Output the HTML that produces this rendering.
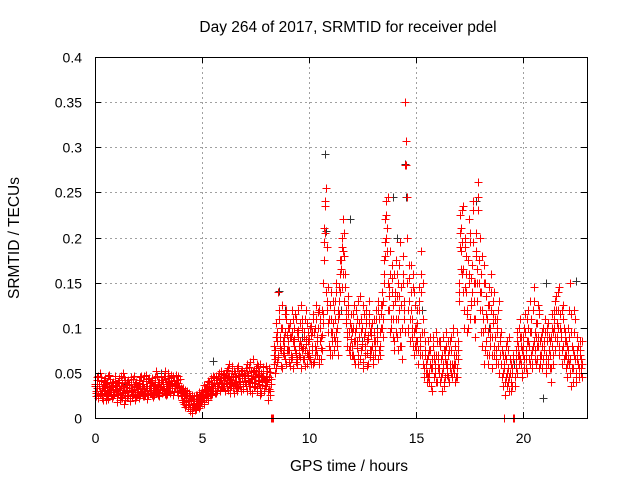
<!DOCTYPE html>
<html><head><meta charset="utf-8"><style>
html,body{margin:0;padding:0;background:#fff}
svg{display:block;font-family:"Liberation Sans",sans-serif}
</style></head><body>
<svg id="chart" width="640" height="480" viewBox="0 0 640 480">
<rect width="640" height="480" fill="#fff"/>
<g id="grid"></g>
<g id="marks"></g>
<g id="axes"></g>
<text x="348" y="32" font-size="15.5" text-anchor="middle">Day 264 of 2017, SRMTID for receiver pdel</text>
<text x="349" y="471" font-size="15.5" text-anchor="middle">GPS time / hours</text>
<text x="0" y="0" font-size="15.5" text-anchor="middle" transform="translate(19,238) rotate(-90)">SRMTID / TECUs</text>
</svg>
<script>
const xTicks = [0, 5, 10, 15, 20];
const yTicks = [0, 0.05, 0.1, 0.15, 0.2, 0.25, 0.3, 0.35, 0.4];
const yTickLabels = ["0", "0.05", "0.1", "0.15", "0.2", "0.25", "0.3", "0.35", "0.4"];
const startHour = 0;
const stepHours = 0.05;
// red series A (milli-TECU), sampled at startHour + i*stepHours
const redA = [
35,28,42,22,38,30,45,26,33,40,20,36,29,48,31,25,39,34,27,41,
30,18,44,26,35,22,50,31,28,37,24,42,33,19,38,29,46,27,34,25,
36,22,45,30,28,41,33,25,48,35,27,39,31,44,23,37,29,52,34,26,
40,31,47,28,36,43,25,38,50,33,29,45,37,26,41,35,48,30,39,34,
28,20,33,15,25,18,30,12,22,8,19,26,14,21,10,24,17,29,13,23,
20,27,15,32,22,35,28,40,25,38,30,45,33,28,42,36,50,31,44,38,
35,48,30,42,55,38,28,46,40,33,52,37,45,30,58,41,35,49,32,44,
40,55,30,48,36,62,44,28,51,39,46,33,58,42,25,50,37,45,30,41,
35,52,20,45,30,0,0,60,75,55,95,68,120,80,58,100,72,90,65,110,
85,62,105,70,95,55,88,115,72,60,98,80,68,125,75,90,58,82,105,70,
88,65,102,75,60,95,80,110,70,120,85,65,92,150,195,240,255,130,95,110,
75,140,95,120,85,150,100,70,130,160,175,200,220,180,145,110,90,125,80,100,
70,115,85,60,100,78,130,90,65,110,82,55,95,120,72,88,105,68,92,80,
60,95,75,110,85,130,70,100,140,90,160,195,240,210,150,120,185,100,140,90,
160,110,135,75,170,95,145,65,180,120,350,280,150,95,130,170,110,80,140,100,
75,120,60,145,90,185,70,110,55,85,40,70,50,90,35,65,80,45,60,95,
40,70,55,85,30,60,75,45,95,55,70,40,85,50,60,100,50,80,45,65,
150,225,185,230,165,120,200,140,95,175,220,110,155,240,130,90,205,150,262,175,
140,95,180,110,60,150,85,125,70,100,160,55,130,80,110,65,95,120,50,85,
60,35,0,70,45,85,55,30,65,40,50,0,0,45,75,95,60,110,80,50,
90,65,115,75,50,100,80,130,70,55,145,95,60,105,80,120,70,90,55,100,
75,110,50,95,65,85,40,100,70,120,90,135,105,140,80,115,95,60,125,85,
70,45,100,60,150,35,80,55,120,65,40,90,60,75,50,85
];
// red series B (milli-TECU), offset by half a step
const redB = [
30,45,25,36,50,28,33,20,42,31,38,24,46,29,35,22,40,27,32,37,
25,40,33,20,47,28,36,15,42,30,26,38,22,45,31,27,35,20,40,29,
32,42,26,38,24,46,30,35,21,43,33,28,40,25,37,31,45,29,36,24,
34,45,28,40,32,52,36,27,44,30,38,48,26,42,33,37,29,46,35,31,
25,32,18,27,12,22,16,28,10,20,6,15,24,11,19,25,14,22,18,27,
25,18,30,24,38,20,33,26,44,30,36,42,28,47,35,40,30,52,36,45,
42,30,50,36,45,60,33,40,52,28,45,38,55,34,48,40,30,53,38,47,
48,35,60,42,30,52,40,65,34,45,55,30,48,38,60,28,45,52,35,58,
42,30,55,25,38,0,0,70,50,90,62,140,78,100,55,85,70,115,60,92,
75,100,58,90,68,110,80,62,95,120,70,85,55,100,78,65,110,88,72,95,
68,92,80,115,62,100,75,90,118,65,100,78,120,105,210,235,190,145,80,125,
95,70,130,90,110,140,80,120,145,175,190,160,205,160,120,95,135,75,105,88,
95,70,125,85,110,60,90,135,75,100,62,115,80,105,58,92,130,75,100,65,
85,70,120,95,65,110,80,125,100,130,175,220,200,245,135,160,110,170,125,75,
130,175,90,150,120,195,80,160,130,95,307,245,120,170,85,140,100,160,70,125,
100,85,130,70,160,95,150,45,75,60,50,85,40,75,55,30,70,55,40,85,
55,85,40,65,50,90,35,75,60,48,85,55,75,45,95,60,40,70,55,85,
130,190,210,160,235,145,180,120,100,160,195,130,170,230,110,150,180,130,245,200,
160,120,95,170,75,135,110,60,145,90,120,70,105,140,60,100,80,130,70,95,
45,70,55,25,80,50,40,90,60,35,70,0,45,55,85,70,100,65,90,45,
70,100,55,85,120,65,95,110,60,80,130,75,105,65,90,115,60,80,100,75,
95,60,85,105,75,55,90,115,60,100,130,85,120,145,100,90,75,110,65,95,
55,80,65,120,50,95,40,70,110,50,65,80,45,70,55,60
];
// red series C (milli-TECU), offset by a quarter step
const redC = [
38,24,33,47,27,41,22,36,30,44,27,39,21,34,43,29,37,24,46,31,
36,27,42,31,23,39,29,45,20,34,40,26,37,30,24,43,32,38,23,35,
27,39,33,47,29,36,24,41,31,26,44,35,28,42,33,25,38,30,47,40,
29,38,42,33,46,27,40,31,36,44,28,39,33,47,30,38,42,26,36,43,
33,24,29,20,31,14,26,19,15,24,12,21,17,9,26,15,21,11,25,19,
31,23,37,29,26,41,34,31,36,27,47,39,33,44,30,46,38,42,35,49,
36,44,39,53,31,47,42,35,58,45,39,50,33,47,41,36,52,44,38,50,
44,38,50,41,57,35,47,43,53,36,49,60,41,52,33,47,40,56,43,36,
47,40,32,51,43,0,0,80,65,105,85,70,110,90,75,125,80,95,120,75,
100,75,90,65,120,85,100,75,110,65,90,105,80,110,65,95,75,120,60,85,
75,100,60,95,110,70,125,85,100,60,110,90,75,115,175,205,140,120,105,70,
110,85,105,75,130,95,85,110,115,140,165,145,185,130,105,80,115,95,70,115,
80,100,65,95,120,85,70,105,95,80,125,90,70,110,85,60,115,95,75,105,
70,110,85,90,120,75,95,115,125,110,150,180,225,185,120,145,95,155,110,85,
140,95,160,110,135,80,125,100,150,110,280,200,100,155,110,120,90,145,95,80,
85,105,75,120,80,140,60,95,70,50,65,45,75,60,35,55,90,65,50,70,
65,50,80,45,70,55,40,65,80,60,45,75,60,90,55,70,60,45,95,75,
140,205,165,195,140,100,190,160,115,150,205,125,140,195,150,110,185,165,230,150,
120,140,80,150,100,115,70,95,125,80,140,90,115,70,90,75,110,60,90,60,
75,50,60,40,65,35,75,45,50,30,55,65,35,65,50,80,70,90,60,75,
80,55,95,65,110,85,60,95,75,120,85,65,90,80,125,55,85,70,95,65,
85,70,100,60,90,70,55,80,95,110,75,120,90,100,70,95,120,80,100,70,
85,60,75,90,65,115,55,75,95,45,75,60,55,85,65,45
];
// black series: hours and values (TECU)
const blackHours = [0.3,1.5,3.1,5.5,8.6,8.9,9.7,10.75,10.78,11.5,11.9,12.5,13.2,13.95,14.1,14.5,14.55,14.55,15.3,17.8,18.4,19.6,20.95,21.1,22.5,22.6];
const blackValues = [0.045,0.038,0.05,0.063,0.141,0.12,0.09,0.292,0.207,0.12,0.22,0.085,0.1,0.245,0.2,0.281,0.307,0.245,0.12,0.24,0.1,0.06,0.022,0.15,0.152,0.08];

const X0 = 95, X1 = 587, Y0 = 418, Y1 = 57;
const xMax = 23, yMax = 0.4;
function xs(h){ return X0 + (h / xMax) * (X1 - X0); }
function ys(v){ return Y0 - (v / yMax) * (Y0 - Y1); }
const NS = "http://www.w3.org/2000/svg";
function mk(tag, attrs, parent){
  const e = document.createElementNS(NS, tag);
  for (const k in attrs) e.setAttribute(k, attrs[k]);
  parent.appendChild(e); return e;
}
const grid = document.getElementById('grid');
const axes = document.getElementById('axes');
const marks = document.getElementById('marks');

yTicks.forEach((t, i) => {
  const y = Math.round(ys(t)) + 0.5;
  if (t > 0 && t < yMax) {
    const g = mk('line', {x1: X0, x2: X1, y1: y, y2: y, stroke: '#a0a0a0', 'stroke-dasharray': '2,3'}, grid);
    
    
  }
  const a = mk('line', {x1: X0, x2: X0 + 6, y1: y, y2: y, stroke: '#000'}, axes);
  
  
  const b = mk('line', {x1: X1 - 6, x2: X1, y1: y, y2: y, stroke: '#000'}, axes);
  
  
  const tx = mk('text', {x: 82, y: y + 5, 'font-size': 14, 'text-anchor': 'end'}, axes);
  tx.textContent = yTickLabels[i];
  
  
});
xTicks.forEach(t => {
  const x = Math.round(xs(t)) + 0.5;
  if (t > 0) {
    const g = mk('line', {x1: x, x2: x, y1: Y1, y2: Y0, stroke: '#a0a0a0', 'stroke-dasharray': '2,3'}, grid);
    
    
  }
  const a = mk('line', {x1: x, x2: x, y1: Y0, y2: Y0 - 6, stroke: '#000'}, axes);
  
  
  const b = mk('line', {x1: x, x2: x, y1: Y1, y2: Y1 + 6, stroke: '#000'}, axes);
  
  
  const tx = mk('text', {x: x, y: 443, 'font-size': 14, 'text-anchor': 'middle'}, axes);
  tx.textContent = String(t);
  
  
});
const frame = mk('rect', {x: X0 + 0.5, y: Y1 + 0.5, width: X1 - X0, height: Y0 - Y1, fill: 'none', stroke: '#000'}, axes);



function plus(h, v, color, name){
  const x = Math.round(xs(h)) + 0.5, y = Math.round(ys(v)) + 0.5;
  const p = mk('path', {d: `M${x-4} ${y}H${x+4}M${x} ${y-4}V${y+4}`, stroke: color, 'stroke-width': 1, fill: 'none', 'shape-rendering': 'crispEdges'}, marks);
  
  
}
blackHours.forEach((h, i) => plus(h, blackValues[i], '#333333', 'black-point'));
redA.forEach((v, i) => plus(startHour + i * stepHours, v / 1000, '#ff0000', 'red-point'));
redB.forEach((v, i) => plus(startHour + i * stepHours + stepHours / 2, v / 1000, '#ff0000', 'red-point'));
redC.forEach((v, i) => plus(startHour + i * stepHours + stepHours / 4, v / 1000, '#ff0000', 'red-point'));
</script>
</body></html>
